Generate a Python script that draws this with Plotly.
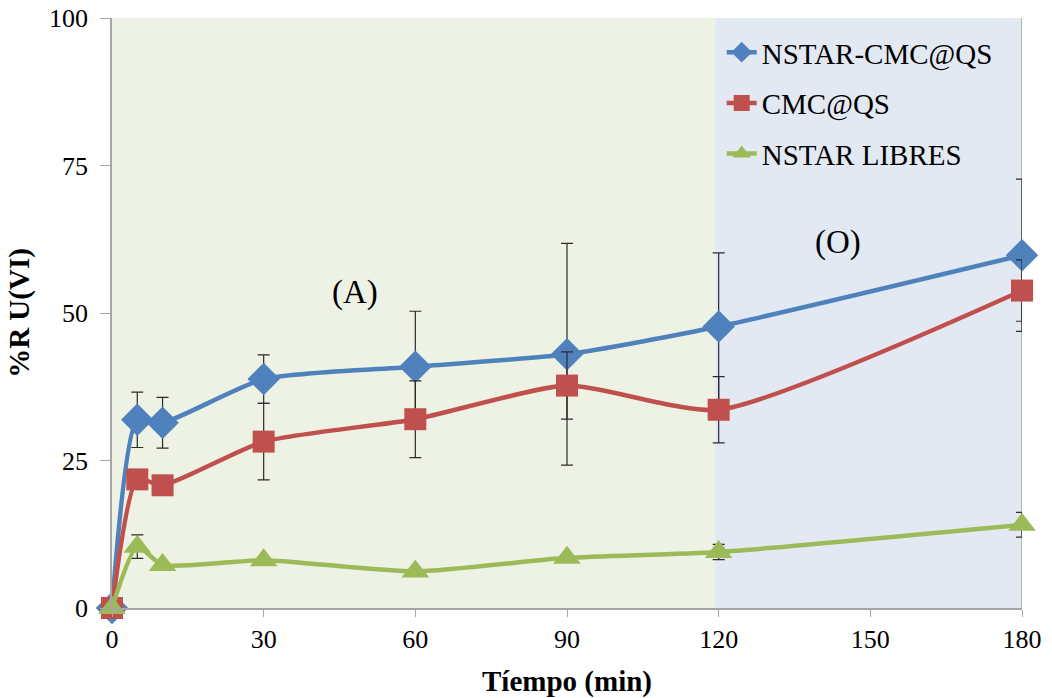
import plotly.graph_objects as go

# Sampling times (min)
tiempo = [0, 5, 10, 30, 60, 90, 120, 180]

# %R U(VI) for each material, with standard deviations
nstar_cmc_qs = [0, 31.9, 31.4, 38.8, 40.9, 43.0, 47.7, 59.8]
nstar_cmc_qs_err = [0, 4.7, 4.3, 4.1, 9.4, 18.8, 12.5, 12.9]

cmc_qs = [0, 21.8, 20.8, 28.2, 32.0, 37.7, 33.6, 53.8]
cmc_qs_err = [0, 0, 0, 6.5, 6.5, 5.7, 5.6, 5.2]

nstar_libres = [0, 10.4, 7.3, 8.1, 6.2, 8.5, 9.5, 14.1]
nstar_libres_err = [0, 2.0, 0, 0, 0, 0, 1.3, 2.1]

series = [
    ("NSTAR-CMC@QS", nstar_cmc_qs, nstar_cmc_qs_err, "#4F81BD", "diamond", 25),
    ("CMC@QS", cmc_qs, cmc_qs_err, "#C0504D", "square", 22),
    ("NSTAR LIBRES", nstar_libres, nstar_libres_err, "#9BBB59", "triangle-up", 24),
]

# Stage boundaries: adsorption (A) and the later stage (O)
etapa_a = (0, 119.3)
etapa_o = (119.3, 180)

serif = "Liberation Serif, Times New Roman, serif"

fig = go.Figure()
for name, vals, errs, color, symbol, msize in series:
    fig.add_trace(go.Scatter(
        x=tiempo, y=vals, name=name, legendgroup=name,
        mode="lines+markers",
        line=dict(color=color, width=4.5, shape="spline", smoothing=0.6),
        marker=dict(symbol=symbol, size=msize, color=color),
        error_y=dict(type="data", array=errs, visible=True,
                     color="#2b2b2b", thickness=1.2, width=6),
        cliponaxis=False,
    ))

fig.add_shape(type="rect", xref="x", yref="y",
              x0=etapa_a[0], x1=etapa_a[1], y0=0, y1=100,
              fillcolor="#EEF2E4", line_width=0, layer="below")
fig.add_shape(type="rect", xref="x", yref="y",
              x0=etapa_o[0], x1=etapa_o[1], y0=0, y1=100,
              fillcolor="#E3E9F3", line_width=0, layer="below")
fig.add_shape(type="line", xref="x", yref="y",
              x0=180, x1=180, y0=0, y1=100,
              line=dict(color="#A6A6A6", width=1.5), layer="below")

fig.add_annotation(x=48, y=53.4, text="(A)", showarrow=False,
                   font=dict(family=serif, size=33, color="black"))
fig.add_annotation(x=143.6, y=62, text="(O)", showarrow=False,
                   font=dict(family=serif, size=33, color="black"))

fig.update_layout(
    width=1052, height=698,
    margin=dict(l=112, r=30, t=18, b=90),
    plot_bgcolor="white", paper_bgcolor="white",
    font=dict(family=serif, size=26, color="black"),
    showlegend=True,
    legend=dict(x=0.670, y=0.985, xanchor="left", yanchor="top",
                bgcolor="rgba(0,0,0,0)", font=dict(family=serif, size=29),
                traceorder="grouped", itemwidth=30, tracegroupgap=10),
)
fig.update_xaxes(
    range=[0, 180], tickvals=[0, 30, 60, 90, 120, 150, 180],
    automargin=False,
    showgrid=False, zeroline=False,
    showline=True, linecolor="#A6A6A6", linewidth=1.5,
    ticks="outside", ticklen=7, tickcolor="#A6A6A6",
    tickfont=dict(family=serif, size=26),
    title=dict(text="<b>Tíempo (min)</b>", font=dict(family=serif, size=29), standoff=20),
)
fig.update_yaxes(
    range=[0, 100], tickvals=[0, 25, 50, 75, 100],
    automargin=False,
    showgrid=False, zeroline=False,
    showline=True, linecolor="#A6A6A6", linewidth=1.5,
    ticks="outside", ticklen=10, tickcolor="#A6A6A6",
    ticklabelstandoff=7,
    tickfont=dict(family=serif, size=26),
    title=dict(text="<b>%R U(VI)</b>", font=dict(family=serif, size=29), standoff=11),
)

fig.write_html("out.html")
